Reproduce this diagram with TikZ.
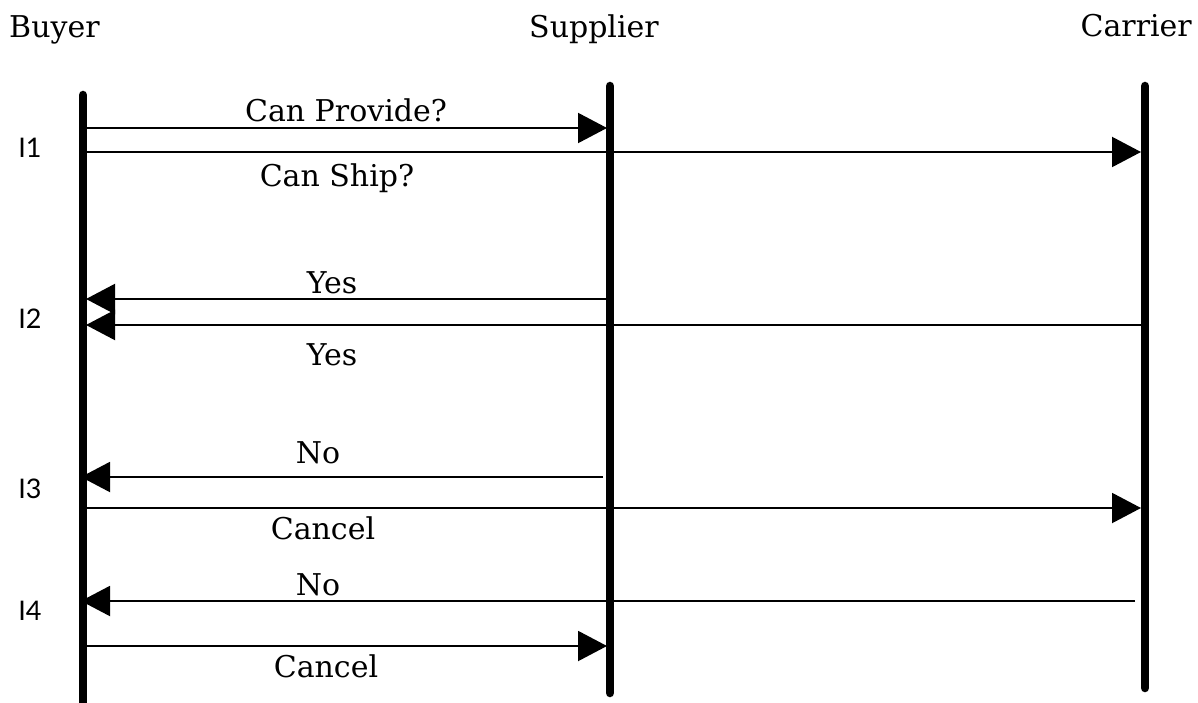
\documentclass[tikz,border=0pt]{standalone}
\usepackage{fontspec}
\setmainfont{DejaVu Serif}
\newfontfamily\lblfont{Lato}
\usetikzlibrary{arrows.meta}
\begin{document}
\begin{tikzpicture}[x=1pt,y=-1pt,
  lifeline/.style={line width=8.5pt,line cap=round},
  msg/.style={line width=2pt,-{Triangle[length=29pt,width=30pt]}},
  title/.style={font=\fontsize{30}{32}\selectfont,inner sep=0pt,anchor=base},
  mlabel/.style={font=\fontsize{30}{32}\selectfont,inner sep=0pt,anchor=base},
  ilabel/.style={font=\lblfont\fontsize{27}{29}\selectfont,inner sep=0pt,anchor=base}]
\useasboundingbox (0,0) rectangle (1198,703);
% titles
\node[title,anchor=base west] (tb) at (9,38) {Buyer};
\node[title] (ts) at (594,38) {Supplier};
\node[title,anchor=base east] (tc) at (1192,37) {Carrier};
% lifelines
\coordinate (b0) at (83,95);
\coordinate (b1) at (83,708);
\coordinate (s0) at (610,86);
\coordinate (s1) at (610,693);
\coordinate (c0) at (1145,86);
\coordinate (c1) at (1145,688);
\draw[lifeline] (b0) -- (b1);
\draw[lifeline] (s0) -- (s1);
\draw[lifeline] (c0) -- (c1);
% message endpoints
\coordinate (m1a) at (86,128);  \coordinate (m1b) at (607,128);
\coordinate (m2a) at (86,152);  \coordinate (m2b) at (1141,152);
\coordinate (m3a) at (606,299); \coordinate (m3b) at (86,299);
\coordinate (m4a) at (1141,325);\coordinate (m4b) at (86,325);
\coordinate (m5a) at (603,477); \coordinate (m5b) at (81,477);
\coordinate (m6a) at (80,508);  \coordinate (m6b) at (1141,508);
\coordinate (m7a) at (1135,601);\coordinate (m7b) at (81,601);
\coordinate (m8a) at (86,646);  \coordinate (m8b) at (607,646);
\draw[msg] (m1a) -- (m1b);
\draw[msg] (m2a) -- (m2b);
\draw[msg] (m3a) -- (m3b);
\draw[msg] (m4a) -- (m4b);
\draw[msg] (m5a) -- (m5b);
\draw[msg] (m6a) -- (m6b);
\draw[msg] (m7a) -- (m7b);
\draw[msg] (m8a) -- (m8b);
% message labels
\node[mlabel] (l1) at (346,122) {Can Provide?};
\node[mlabel] (l2) at (337,187) {Can Ship?};
\node[mlabel] (l3) at (332,293) {Yes};
\node[mlabel] (l4) at (332,365) {Yes};
\node[mlabel] (l5) at (318,463) {No};
\node[mlabel] (l6) at (323,539) {Cancel};
\node[mlabel] (l7) at (318,595) {No};
\node[mlabel] (l8) at (326,677) {Cancel};
% interaction labels
\node[ilabel] (i1) at (30,158) {I1};
\node[ilabel] (i2) at (30,328) {I2};
\node[ilabel] (i3) at (30,498) {I3};
\node[ilabel] (i4) at (30,620) {I4};
\end{tikzpicture}
\end{document}
